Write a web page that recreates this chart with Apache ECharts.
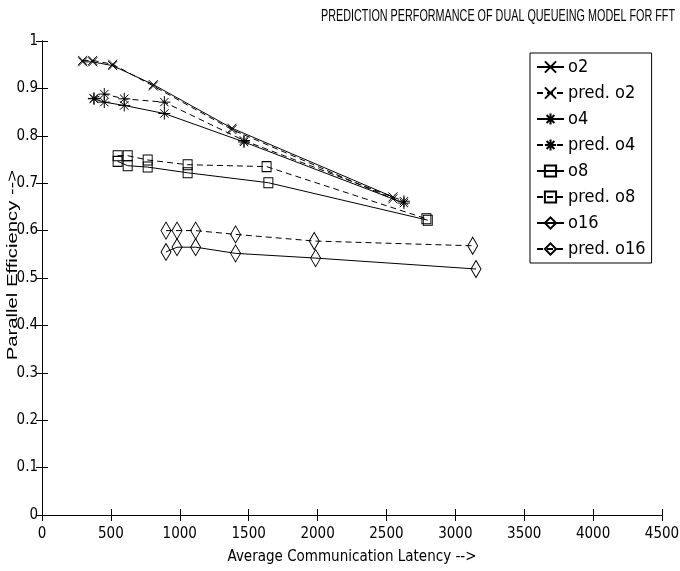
<!DOCTYPE html>
<html>
<head>
<meta charset="utf-8">
<script src="https://cdn.jsdelivr.net/npm/echarts@6/dist/echarts.min.js"></script>
<style>
html,body{margin:0;padding:0;background:#fff;}
#chart{width:680px;height:571px;}
</style>
</head>
<body>
<div id="chart"></div>
<script>
// ---- data (latency, efficiency) ----
var o2 = [[295,0.956],[368,0.956],[513,0.948],[808,0.908],[1379,0.816],[2547,0.671]];
var predO2 = [[295,0.959],[368,0.959],[513,0.951],[808,0.905],[1379,0.813],[2547,0.667]];
var o4 = [[377,0.878],[452,0.871],[597,0.864],[888,0.847],[1466,0.787],[2627,0.658]];
var predO4 = [[377,0.879],[452,0.888],[597,0.878],[888,0.871],[1466,0.790],[2627,0.662]];
var o8 = [[549,0.746],[622,0.737],[767,0.734],[1057,0.722],[1643,0.701],[2800,0.622]];
var predO8 = [[549,0.758],[622,0.758],[767,0.749],[1057,0.739],[1630,0.735],[2790,0.625]];
var o16 = [[900,0.555],[980,0.565],[1115,0.565],[1405,0.552],[1986,0.542],[3150,0.519]];
var predO16 = [[900,0.600],[980,0.600],[1115,0.600],[1405,0.592],[1976,0.578],[3126,0.568]];

var seriesNames = ['o2','pred. o2','o4','pred. o4','o8','pred. o8','o16','pred. o16'];
var xTicks = [0,500,1000,1500,2000,2500,3000,3500,4000,4500];
var yTicks = [0,0.1,0.2,0.3,0.4,0.5,0.6,0.7,0.8,0.9,1];
var titleText = 'PREDICTION PERFORMANCE OF DUAL QUEUEING MODEL FOR FFT';
var yTitle = 'Parallel Efficiency -->';
var xTitle = 'Average Communication Latency -->';

var FONT = "'Liberation Sans Narrow','DejaVu Sans Condensed','Liberation Sans',Arial,sans-serif";
var SYM_X = 'path://M0,0L10,10M10,0L0,10';
var SYM_STAR = 'path://M5,0L5,10M0,5L10,5M1.5,1.5L8.5,8.5M8.5,1.5L1.5,8.5';

function mk(name, data, symbol, size, dashed) {
  return {
    name: name, type: 'line', data: data,
    symbol: symbol, symbolSize: size, symbolKeepAspect: false,
    showSymbol: true,
    lineStyle: {color: '#000', width: 1, type: dashed ? [6,4] : 'solid'},
    itemStyle: {color: 'none', borderColor: '#000', borderWidth: 1},
    emphasis: {disabled: true},
    animation: false
  };
}

var chart = echarts.init(document.getElementById('chart'));
var axisCommon = {
  axisLine: {show: true, lineStyle: {color: '#000', width: 1}},
  axisTick: {show: true, inside: true, length: 6, lineStyle: {color: '#000'}},
  splitLine: {show: false}
};
chart.setOption({
  backgroundColor: '#fff',
  animation: false,
  graphic: [{
    type: 'text', x: 321, y: 9, scaleX: 0.675, scaleY: 1,
    style: {text: titleText, font: "16px 'Liberation Sans', Arial, sans-serif", fill: '#000'},
    silent: true
  }, {
    type: 'text', x: 13, y: 265, rotation: Math.PI / 2, scaleX: 1.35, scaleY: 1,
    style: {text: yTitle, font: "15px 'Liberation Sans', Arial, sans-serif", fill: '#000',
            textAlign: 'center', textVerticalAlign: 'middle'},
    silent: true
  }],
  grid: {left: 42, right: 18, top: 41, bottom: 56, containLabel: false, outerBoundsMode: 'none'},
  legend: {
    data: seriesNames,
    orient: 'vertical',
    left: 530, top: 53,
    padding: [5, 6, 5, 6],
    itemWidth: 27, itemHeight: 14, itemGap: 8,
    backgroundColor: '#fff',
    borderColor: '#000', borderWidth: 1,
    textStyle: {fontFamily: FONT, fontSize: 18, color: '#000', padding: [0,0,0,-1]}
  },
  xAxis: [
    Object.assign({
      type: 'value', min: 0, max: 4500, interval: 500,
      name: xTitle,
      nameLocation: 'middle', nameGap: 35, nameMoveOverlap: false,
      nameTextStyle: {fontFamily: FONT, fontSize: 15, color: '#000'},
      axisLabel: {fontFamily: FONT, fontSize: 15, color: '#000', margin: 12,
        formatter: function(v){ return xTicks.indexOf(v) >= 0 ? String(v) : ''; }}
    }, axisCommon),
    Object.assign({
      type: 'value', min: 0, max: 4500, interval: 500, position: 'top',
      axisLabel: {show: false}
    }, axisCommon)
  ],
  yAxis: [
    Object.assign({
      type: 'value', min: 0, max: 1, interval: 0.1,
      axisLabel: {fontFamily: FONT, fontSize: 15, color: '#000', margin: 4,
        formatter: function(v){ return String(+v.toFixed(1)); }}
    }, axisCommon),
    Object.assign({
      type: 'value', min: 0, max: 1, interval: 0.1, position: 'right',
      axisLabel: {show: false}
    }, axisCommon)
  ],
  series: [
    mk('o2', o2, SYM_X, 9, false),
    mk('pred. o2', predO2, SYM_X, 9, true),
    mk('o4', o4, SYM_STAR, 12, false),
    mk('pred. o4', predO4, SYM_STAR, 12, true),
    mk('o8', o8, 'rect', [9, 10], false),
    mk('pred. o8', predO8, 'rect', [9, 10], true),
    mk('o16', o16, 'diamond', [10, 17], false),
    mk('pred. o16', predO16, 'diamond', [10, 17], true)
  ]
});
</script>
</body>
</html>
